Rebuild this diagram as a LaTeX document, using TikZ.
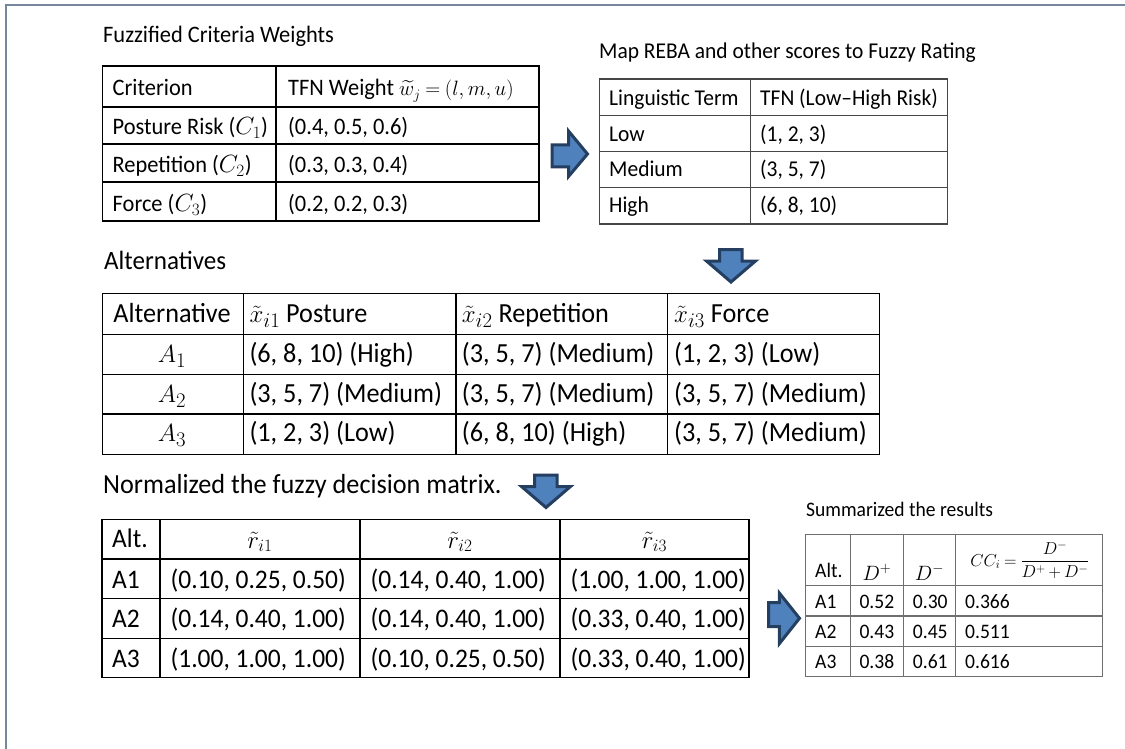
\documentclass[tikz,border=0pt]{standalone}
\usepackage{amsmath}
\usepackage{fontspec}
\setmainfont{Carlito}[FakeStretch=0.95]
\definecolor{arrfill}{RGB}{79,129,189}
\definecolor{arrline}{RGB}{36,63,96}
\definecolor{framec}{RGB}{118,134,156}
\definecolor{gridgray}{RGB}{70,70,70}
\definecolor{gridlight}{RGB}{110,110,110}
\begin{document}
\begin{tikzpicture}[x=1pt,y=-1pt,
  tw/.style={inner sep=0pt, anchor=base west},
  tc/.style={inner sep=0pt, anchor=base},
  fA/.style={font=\fontsize{23.6}{28}\selectfont},
  fB/.style={font=\fontsize{22.6}{27}\selectfont},
  fC/.style={font=\fontsize{27.6}{32}\selectfont},
  fD/.style={font=\fontsize{26.8}{31}\selectfont},
  fE/.style={font=\fontsize{20.6}{24}\selectfont},
  gridA/.style={line width=1.2pt, draw=black},
  gridB/.style={line width=1.1pt, draw=gridgray},
  gridC/.style={line width=1.1pt, draw=gridlight},
  blockarrow/.style={fill=arrfill, draw=arrline, line width=3pt, line join=miter},
  frameline/.style={draw=framec, line width=1.6pt}]
\useasboundingbox (0,0) rectangle (1125,749);
% frame
\draw[frameline] (6,749) -- (6,5) -- (1125,5);

% ---------- Table 1 ----------
\node[tw,fA] (t1title) at (103,43) {Fuzzified Criteria Weights};
\draw[gridA] (102.7,66) rectangle (539,221);
\draw[gridA] (102.7,107) -- (539,107) (102.7,144) -- (539,144) (102.7,182) -- (539,182) (276,66) -- (276,221);
\node[tw,fA] (t1h1) at (112.5,96) {Criterion};
\node[tw,fA] (t1h2) at (288,96) {TFN Weight {\fontsize{22.5}{26}\selectfont\thickmuskip=4mu\relax$\widetilde{w}_j=(l,m,u)$}};
\node[tw,fA] (t1a) at (112.5,135) {Posture Risk ($C_1$)};
\node[tw,fA] (t1av) at (288,135) {(0.4, 0.5, 0.6)};
\node[tw,fA] (t1b) at (112.5,173) {Repetition ($C_2$)};
\node[tw,fA] (t1bv) at (288,173) {(0.3, 0.3, 0.4)};
\node[tw,fA] (t1c) at (112.5,211.5) {Force ($C_3$)};
\node[tw,fA] (t1cv) at (288,211.5) {(0.2, 0.2, 0.3)};

% ---------- Table 2 ----------
\node[tw,fB] (t2title) at (599,59) {Map REBA and other scores to Fuzzy Rating};
\draw[gridB] (599.3,79) rectangle (947.3,224);
\draw[gridB] (599.3,115.3) -- (947.3,115.3) (599.3,151.3) -- (947.3,151.3) (599.3,187.7) -- (947.3,187.7) (750.7,79) -- (750.7,224);
\node[tw,fB] (t2h1) at (609,106) {Linguistic Term};
\node[tw,fB] (t2h2) at (760,106) {TFN (Low–High Risk)};
\node[tw,fB] (t2a) at (609,142) {Low};
\node[tw,fB] (t2av) at (760,142) {(1, 2, 3)};
\node[tw,fB] (t2b) at (609,177) {Medium};
\node[tw,fB] (t2bv) at (760,177) {(3, 5, 7)};
\node[tw,fB] (t2c) at (609,212) {High};
\node[tw,fB] (t2cv) at (760,212) {(6, 8, 10)};

% arrows
\draw[blockarrow] (552,144.8) -- (568.5,144.8) -- (568.5,131) -- (587.5,154) -- (568.5,176.5) -- (568.5,166.8) -- (552,166.8) -- cycle;
\draw[blockarrow] (719.5,249.5) -- (742,249.5) -- (742,261) -- (755.5,261) -- (731,282) -- (706.5,261) -- (719.5,261) -- cycle;

% ---------- Table 3 ----------
\node[tw,font=\fontsize{26.4}{31}\selectfont] (t3title) at (104,269.5) {Alternatives};
\draw[gridA] (102.7,293.3) rectangle (879.3,454.3);
\draw[gridA] (102.7,334.3) -- (879.3,334.3) (102.7,374.3) -- (879.3,374.3) (102.7,414) -- (879.3,414)
  (243.3,293.3) -- (243.3,454.3) (456,293.3) -- (456,454.3) (667.7,293.3) -- (667.7,454.3);
\node[tc,fC] (t3h0) at (172,322.3) {Alternative};
\node[tw,fC] (t3h1) at (249.3,322.3) {$\tilde{x}_{i1}$ Posture};
\node[tw,fC] (t3h2) at (461.7,322.3) {$\tilde{x}_{i2}$ Repetition};
\node[tw,fC] (t3h3) at (674,322.3) {$\tilde{x}_{i3}$ Force};
\node[tc,fC] (t3a) at (172,362.3) {$A_1$};
\node[tw,fC] (t3a1) at (249.3,362.3) {(6, 8, 10) (High)};
\node[tw,fC] (t3a2) at (461.7,362.3) {(3, 5, 7) (Medium)};
\node[tw,fC] (t3a3) at (674,362.3) {(1, 2, 3) (Low)};
\node[tc,fC] (t3b) at (172,402.3) {$A_2$};
\node[tw,fC] (t3b1) at (249.3,402.3) {(3, 5, 7) (Medium)};
\node[tw,fC] (t3b2) at (461.7,402.3) {(3, 5, 7) (Medium)};
\node[tw,fC] (t3b3) at (674,402.3) {(3, 5, 7) (Medium)};
\node[tc,fC] (t3c) at (172,441.7) {$A_3$};
\node[tw,fC] (t3c1) at (249.3,441.7) {(1, 2, 3) (Low)};
\node[tw,fC] (t3c2) at (461.7,441.7) {(6, 8, 10) (High)};
\node[tw,fC] (t3c3) at (674,441.7) {(3, 5, 7) (Medium)};

% ---------- Table 4 ----------
\node[tw,fC] (t4title) at (103,493) {Normalized the fuzzy decision matrix.};
\draw[blockarrow] (534.5,475) -- (557,475) -- (557,486.5) -- (570.5,486.5) -- (546,507.5) -- (521.5,486.5) -- (534.5,486.5) -- cycle;
\draw[gridA] (102,519.3) rectangle (749,677.3);
\draw[gridA] (102,559) -- (749,559) (102,598.7) -- (749,598.7) (102,638.3) -- (749,638.3)
  (160,519.3) -- (160,677.3) (360,519.3) -- (360,677.3) (560,519.3) -- (560,677.3);
\node[tw,fD] (t4h0) at (112,547) {Alt.};
\node[tc,fD] (t4h1) at (260,548) {$\tilde{r}_{i1}$};
\node[tc,fD] (t4h2) at (460,548) {$\tilde{r}_{i2}$};
\node[tc,fD] (t4h3) at (654.5,548) {$\tilde{r}_{i3}$};
\node[tw,fD] (t4a) at (112,588) {A1};
\node[tw,fD] (t4a1) at (170.5,588) {(0.10, 0.25, 0.50)};
\node[tw,fD] (t4a2) at (370.5,588) {(0.14, 0.40, 1.00)};
\node[tw,fD] (t4a3) at (570.5,588) {(1.00, 1.00, 1.00)};
\node[tw,fD] (t4b) at (112,627.7) {A2};
\node[tw,fD] (t4b1) at (170.5,627.7) {(0.14, 0.40, 1.00)};
\node[tw,fD] (t4b2) at (370.5,627.7) {(0.14, 0.40, 1.00)};
\node[tw,fD] (t4b3) at (570.5,627.7) {(0.33, 0.40, 1.00)};
\node[tw,fD] (t4c) at (112,667.3) {A3};
\node[tw,fD] (t4c1) at (170.5,667.3) {(1.00, 1.00, 1.00)};
\node[tw,fD] (t4c2) at (370.5,667.3) {(0.10, 0.25, 0.50)};
\node[tw,fD] (t4c3) at (570.5,667.3) {(0.33, 0.40, 1.00)};

\draw[blockarrow] (768.5,602.7) -- (779.3,602.7) -- (779.3,593) -- (799.5,618.3) -- (779.3,643.7) -- (779.3,626.7) -- (768.5,626.7) -- cycle;

% ---------- Summary ----------
\node[tw,fE] (t5title) at (806,516) {Summarized the results};
\draw[gridC] (805.7,534.3) rectangle (1102.3,676.7);
\draw[gridC] (805.7,585.7) -- (1102.3,585.7) (805.7,616) -- (1102.3,616) (805.7,646.3) -- (1102.3,646.3)
  (850.7,534.3) -- (850.7,676.7) (903.3,534.3) -- (903.3,676.7) (955.7,534.3) -- (955.7,676.7);
\node[tw,fE] (t5h0) at (815,577) {Alt.};
\node[tc,fE] (t5h1) at (877,580) {$D^{+}$};
\node[tc,fE] (t5h2) at (929.5,580) {$D^{-}$};
\node[inner sep=0pt,font=\fontsize{18.3}{22}\selectfont] (t5h3) at (1030,560) {\thickmuskip=4mu\relax\medmuskip=3mu\relax$CC_i=\dfrac{D^{-}}{D^{+}+D^{-}}$};
\node[tw,fE] (t5a) at (815,608.3) {A1};
\node[tw,fE] (t5a1) at (859.3,608.3) {0.52};
\node[tw,fE] (t5a2) at (912.7,608.3) {0.30};
\node[tw,fE] (t5a3) at (965,608.3) {0.366};
\node[tw,fE] (t5b) at (815,638.3) {A2};
\node[tw,fE] (t5b1) at (859.3,638.3) {0.43};
\node[tw,fE] (t5b2) at (912.7,638.3) {0.45};
\node[tw,fE] (t5b3) at (965,638.3) {0.511};
\node[tw,fE] (t5c) at (815,668.3) {A3};
\node[tw,fE] (t5c1) at (859.3,668.3) {0.38};
\node[tw,fE] (t5c2) at (912.7,668.3) {0.61};
\node[tw,fE] (t5c3) at (965,668.3) {0.616};
\end{tikzpicture}
\end{document}
